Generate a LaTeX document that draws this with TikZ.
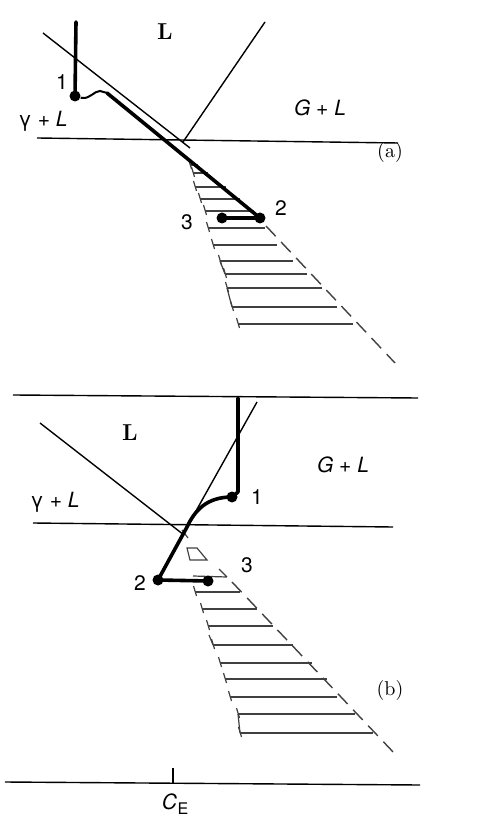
\documentclass[tikz,border=0pt]{standalone}
\usepackage{fontspec}
\setsansfont{TeX Gyre Heros}
\usetikzlibrary{calc,positioning}

\begin{document}
\begin{tikzpicture}[
    x=0.5pt, y=-0.5pt,
    thinln/.style={line width=0.7pt},
    pathln/.style={line width=1.8pt, line cap=round, line join=round},
    hatchln/.style={line width=0.6pt, black!75},
    bound/.style={line width=0.7pt, black!75, dash pattern=on 7pt off 4pt},
    dot/.style={circle, fill=black, inner sep=0pt, minimum size=5.5pt},
    num/.style={font=\sffamily\fontsize{10.5}{12}\selectfont, inner sep=1pt},
    phase/.style={font=\sffamily\itshape\fontsize{10.5}{12}\selectfont, inner sep=1pt},
    liq/.style={font=\bfseries\fontsize{11.5}{13}\selectfont, inner sep=1pt},
    tag/.style={font=\fontsize{10}{12}\selectfont, inner sep=1pt},
  ]
  \useasboundingbox (0,0) rectangle (503,822);

  % ---------------- Panel (a) ----------------
  % Coupled zone hatching
  \foreach \y/\xl/\xr in {165/190/198, 173/193/208, 187/195/226, 199/200/240,
      211/205/254, 228/208/265, 245/213/277, 261/220/293, 274/225/307,
      288/227/322, 307/232/337, 324/238/353}
  {
    \draw[hatchln] (\xl,\y) -- (\xr,\y);
    \draw[hatchln] (\xl-1.5,\y-6) -- (\xl+1.5,\y+4);
  }
  \draw[hatchln] (220,261) -- (225,274);
  \draw[hatchln] (227,288) -- (232,307);
  \draw[bound] (266,226) -- (395,363);

  % Phase boundaries
  \coordinate (aHl) at (37,138);
  \coordinate (aHr) at (398,143);
  \draw[thinln] (aHl) -- (aHr);
  \draw[thinln] (43,33) -- (190,148);
  \draw[thinln] (265,22) -- (183,142);

  % Growth path
  \node[dot] (a1) at (75,96) {};
  \node[dot] (a2) at (260,218) {};
  \node[dot] (a3) at (222,218) {};
  \draw[pathln] (76,22) -- (a1.center);
  \draw[line width=1pt] (a1) -- (82,98) .. controls (90,99) and (94,91) .. (100,91) -- (107,93);
  \draw[pathln] (107,93) -- (a2.center);
  \draw[pathln] (a3.center) -- (a2.center);

  % Labels
  \node[liq] (aL) at (165,32) {L};
  \node[phase] (aGL) at (320,108) {G + L};
  \node[phase] (aYL) at (43,121) {\textup{γ} + L};
  \node[num] (a1lbl) at (62,82) {1};
  \node[num] (a2lbl) at (281,208) {2};
  \node[num] (a3lbl) at (187,222) {3};
  \node[tag] (atag) at (390,153) {(a)};

  % ---------------- Panel (b) ----------------
  % Coupled zone hatching
  \foreach \y/\xl/\xr in {592/195/240, 609/202/257, 626/208/273, 645/213/293,
      663/220/312, 679/225/327, 697/230/337, 714/238/355, 733/240/373}
  {
    \draw[hatchln] (\xl,\y) -- (\xr,\y);
    \draw[hatchln] (\xl-1.5,\y-6) -- (\xl+1.5,\y+4);
  }
  \draw[hatchln] (238,714) -- (240,733);
  \draw[hatchln] (213,645) -- (209,635);
  \draw[hatchln] (187,548) -- (197,548) -- (207,560) -- (190,560) -- cycle;
  \draw[hatchln] (182,530) -- (188,538);
  \draw[hatchln] (193,576) -- (227,577) (219,569) -- (227,577);
  \draw[bound] (232,582) -- (395,754);

  % Phase boundaries
  \coordinate (bTl) at (13,395);
  \coordinate (bTr) at (418,398);
  \coordinate (bHl) at (33,523);
  \coordinate (bHr) at (393,527);
  \draw[thinln] (bTl) -- (bTr);
  \draw[thinln] (bHl) -- (bHr);
  \draw[thinln] (40,423) -- (184,535);

  % Growth path
  \node[dot] (b1) at (232,497) {};
  \node[dot] (b2) at (158,580) {};
  \node[dot] (b3) at (208,581) {};
  \coordinate (bX) at (187,527);
  \draw[thinln] (257,402) -- (bX);
  \draw[pathln] (238,398) -- (238,492) -- (b1.center);
  \draw[pathln] (b1.center) .. controls (207,497) and (195,510) .. (bX) -- (b2.center);
  \draw[pathln] (b2.center) -- (b3.center);

  % Labels
  \node[liq] (bL) at (130,433) {L};
  \node[phase] (bGL) at (343,465) {G + L};
  \node[phase] (bYL) at (55,502) {\textup{γ} + L};
  \node[num] (b1lbl) at (257,497) {1};
  \node[num] (b2lbl) at (140,583) {2};
  \node[num] (b3lbl) at (247,565) {3};
  \node[tag] (btag) at (390,690) {(b)};

  % Composition axis
  \coordinate (axl) at (5,782);
  \coordinate (axr) at (420,785);
  \draw[thinln] (axl) -- (axr);
  \draw[thinln] (173,768) -- (173,783);
  \node[phase] (CE) at (175,804) {C\kern0.3pt\raisebox{-2.5pt}{\upshape\fontsize{8}{9}\selectfont E}};
\end{tikzpicture}
\end{document}
